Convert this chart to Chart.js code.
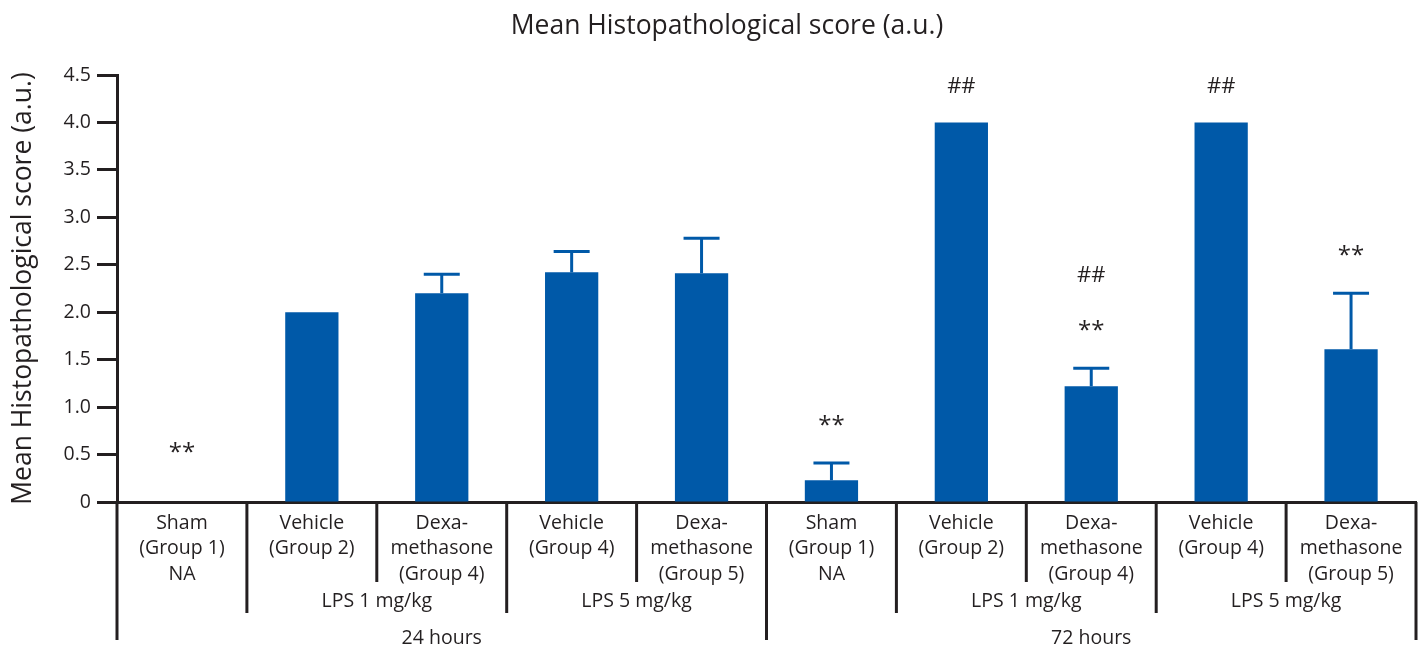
<!DOCTYPE html>
<html>
<head>
<meta charset="utf-8">
<script src="https://cdn.jsdelivr.net/npm/chart.js@4.4.1/dist/chart.umd.min.js"></script>
<style>
html,body{margin:0;padding:0;background:#fff;}
#wrap{width:1424px;height:649px;position:relative;}
</style>
</head>
<body>
<div id="wrap"><canvas id="c"></canvas></div>
<script>
// ---- data ----
const categoryLabels = [
  ['Sham', '(Group 1)', 'NA'],
  ['Vehicle', '(Group 2)'],
  ['Dexa-', 'methasone', '(Group 4)'],
  ['Vehicle', '(Group 4)'],
  ['Dexa-', 'methasone', '(Group 5)'],
  ['Sham', '(Group 1)', 'NA'],
  ['Vehicle', '(Group 2)'],
  ['Dexa-', 'methasone', '(Group 4)'],
  ['Vehicle', '(Group 4)'],
  ['Dexa-', 'methasone', '(Group 5)']
];
const meanScores = [0, 2.0, 2.2, 2.42, 2.41, 0.23, 4.0, 1.22, 4.0, 1.61];
const sdScores   = [0, 0, 0.2, 0.22, 0.37, 0.18, 0, 0.19, 0, 0.59];
const starMarks  = ['**', '', '', '', '', '**', '', '**', '', '**'];
const hashMarks  = ['', '', '', '', '', '', '##', '##', '##', ''];
const doseGroupLabels = ['', 'LPS 1 mg/kg', 'LPS 5 mg/kg', '', 'LPS 1 mg/kg', 'LPS 5 mg/kg'];
const doseGroupFirst  = [0, 1, 3, 5, 6, 8];
const doseGroupLast   = [0, 2, 4, 5, 7, 9];
const timeGroupLabels = ['24 hours', '72 hours'];
const timeGroupFirst  = [0, 5];
const timeGroupLast   = [4, 9];
const yTickValues = [0, 0.5, 1.0, 1.5, 2.0, 2.5, 3.0, 3.5, 4.0, 4.5];
const chartTitle = 'Mean Histopathological score (a.u.)';
const yAxisTitle = 'Mean Histopathological score (a.u.)';

// ---- styles ----
const FONT = "'Open Sans', 'Noto Sans', sans-serif";
const INK = '#231f20';
const BLUE = '#0059a8';

const annotPlugin = {
  id: 'annot',
  afterDraw(chart) {
    const ctx = chart.ctx;
    const xs = chart.scales.x, ys = chart.scales.y;
    const area = chart.chartArea;
    const n = categoryLabels.length;
    const catW = (area.right - area.left) / n;
    ctx.save();

    // title
    ctx.fillStyle = INK;
    ctx.font = "26.5px " + FONT;
    ctx.textAlign = 'center';
    ctx.textBaseline = 'middle';
    ctx.fillText(chartTitle, 727, 26);

    // error bars
    ctx.strokeStyle = BLUE;
    ctx.lineWidth = 3;
    const errTops = [];
    for (let i = 0; i < n; i++) {
      const cx = xs.getPixelForValue(i);
      const top = ys.getPixelForValue(meanScores[i]);
      const et = ys.getPixelForValue(meanScores[i] + sdScores[i]);
      errTops.push(et);
      if (sdScores[i] > 0) {
        ctx.beginPath();
        ctx.moveTo(cx, top);
        ctx.lineTo(cx, et);
        ctx.stroke();
        ctx.beginPath();
        ctx.moveTo(cx - 18, et);
        ctx.lineTo(cx + 18, et);
        ctx.stroke();
      }
    }

    // significance marks
    ctx.fillStyle = INK;
    ctx.textAlign = 'center';
    ctx.textBaseline = 'middle';
    for (let i = 0; i < n; i++) {
      const cx = xs.getPixelForValue(i);
      let starY = null;
      if (starMarks[i]) {
        starY = errTops[i] - (sdScores[i] > 0 ? 45 : 57);
        ctx.font = "24px " + FONT;
        ctx.fillText(starMarks[i], cx, starY + 8);
      }
      if (hashMarks[i]) {
        const hy = starY !== null ? starY - 47 : errTops[i] - 36;
        ctx.font = "22px " + FONT;
        ctx.fillText(hashMarks[i], cx, hy);
      }
    }

    // category labels
    ctx.font = "19.5px " + FONT;
    ctx.fillStyle = INK;
    const base = area.bottom;
    for (let i = 0; i < n; i++) {
      const cx = area.left + (i + 0.5) * catW;
      categoryLabels[i].forEach((line, k) => {
        ctx.fillText(line, cx, base + 21 + k * 25.5);
      });
    }
    // dose group labels
    for (let g = 0; g < doseGroupLabels.length; g++) {
      if (!doseGroupLabels[g]) continue;
      const x0 = area.left + doseGroupFirst[g] * catW;
      const x1 = area.left + (doseGroupLast[g] + 1) * catW;
      ctx.fillText(doseGroupLabels[g], (x0 + x1) / 2, base + 99);
    }
    // time group labels
    for (let g = 0; g < timeGroupLabels.length; g++) {
      const x0 = area.left + timeGroupFirst[g] * catW;
      const x1 = area.left + (timeGroupLast[g] + 1) * catW;
      ctx.fillText(timeGroupLabels[g], (x0 + x1) / 2, base + 136);
    }

    // separators
    ctx.strokeStyle = INK;
    ctx.lineWidth = 3;
    for (let b = 0; b <= n; b++) {
      const x = area.left + b * catW;
      let depth = 80;
      if (timeGroupFirst.includes(b) || b === n) depth = 138;
      else if (doseGroupFirst.includes(b)) depth = 111;
      ctx.beginPath();
      ctx.moveTo(x, base);
      ctx.lineTo(x, base + depth);
      ctx.stroke();
    }
    ctx.restore();
  }
};

new Chart(document.getElementById('c'), {
  type: 'bar',
  data: {
    labels: categoryLabels.map(l => l.join(' ')),
    datasets: [{
      data: meanScores,
      backgroundColor: BLUE,
      borderWidth: 0,
      barPercentage: 0.41,
      categoryPercentage: 1.0
    }]
  },
  options: {
    responsive: true,
    maintainAspectRatio: false,
    animation: false,
    layout: { padding: { top: 75, right: 8, left: 0, bottom: 0 } },
    plugins: { legend: { display: false }, tooltip: { enabled: false }, title: { display: false } },
    scales: {
      x: {
        ticks: { display: false },
        grid: { display: false },
        border: { display: true, width: 3, color: INK },
        afterFit(s) { s.height = 147; }
      },
      y: {
        min: 0, max: 4.5,
        afterBuildTicks(s) { s.ticks = yTickValues.map(v => ({ value: v })); },
        ticks: {
          color: INK,
          font: { family: FONT, size: 19.5 },
          padding: 6,
          callback: v => (v === 0 ? '0' : Number(v).toFixed(1))
        },
        grid: { drawOnChartArea: false, drawTicks: true, tickLength: 20, tickWidth: 3, tickColor: INK },
        border: { display: true, width: 3, color: INK },
        title: {
          display: true,
          text: yAxisTitle,
          color: INK,
          font: { family: FONT, size: 26.5 },
          padding: { top: 8, bottom: 0 }
        },
        afterFit(s) { s.width = 117; }
      }
    }
  },
  plugins: [annotPlugin]
});
</script>
</body>
</html>
